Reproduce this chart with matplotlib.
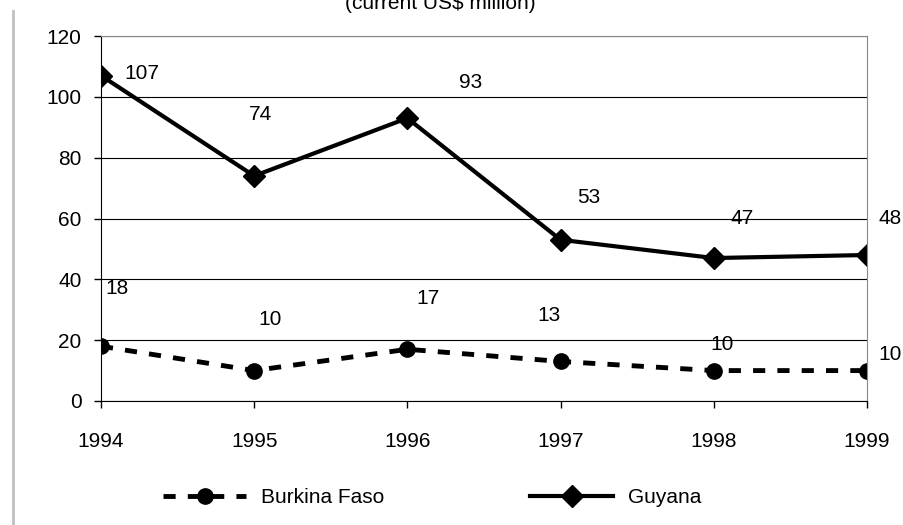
import matplotlib.pyplot as plt
from matplotlib.lines import Line2D

plt.rcParams['font.family'] = ['Liberation Sans', 'DejaVu Sans']

# Data
years = [1994, 1995, 1996, 1997, 1998, 1999]
burkina = [18, 10, 17, 13, 10, 10]
guyana = [107, 74, 93, 53, 47, 48]

# label offsets in pixels (x, y) as placed in the original
guyana_off = [(41, 2), (6, 61), (63, 36), (28, 42), (28, 40), (23, 37)]
burkina_off = [(16, 58), (16, 51), (21, 51), (-12, 46), (8, 26), (23, 16)]

fs = 15

fig = plt.figure(figsize=(9.04, 5.25), dpi=100)
ax = fig.add_axes([0.1117, 0.2362, 0.8473, 0.6952])

ax.plot(years, burkina, color='black', linestyle=(0, (2.5, 2.5)), linewidth=3.5,
        marker='o', markersize=11, label='Burkina Faso')
ax.plot(years, guyana, color='black', linestyle='-', linewidth=3,
        marker='D', markersize=11, label='Guyana')

for x, v, (dx, dy) in zip(years, guyana, guyana_off):
    ax.annotate(str(v), (x, v), xytext=(dx * 0.72, dy * 0.72), textcoords='offset points',
                ha='center', va='center', fontsize=fs, annotation_clip=False)
for x, v, (dx, dy) in zip(years, burkina, burkina_off):
    ax.annotate(str(v), (x, v), xytext=(dx * 0.72, dy * 0.72), textcoords='offset points',
                ha='center', va='center', fontsize=fs, annotation_clip=False)

ax.set_xlim(1994, 1999)
ax.set_ylim(0, 120)
ax.set_yticks(range(0, 121, 20))
ax.set_xticks(years)
ax.tick_params(direction='out', length=5, width=1, labelsize=fs)
ax.tick_params(axis='y', pad=9)
ax.tick_params(axis='x', pad=17)
ax.grid(axis='y', color='black', linewidth=0.8)
ax.set_axisbelow(True)

ax.spines['top'].set_color('#888888')
ax.spines['right'].set_color('#888888')
ax.spines['left'].set_color('black')
ax.spines['bottom'].set_color('black')

fig.text(0.487, 0.994, '(current US$ million)', ha='center', va='center', fontsize=fs)
fig.add_artist(Line2D([0.0144, 0.0144], [0, 0.98], color='#c0c0c0', linewidth=2))

fig.legend(loc='center', bbox_to_anchor=(0.478, 0.052), ncol=2, frameon=False,
           fontsize=fs, handlelength=4, columnspacing=7, handletextpad=0.7)

fig.savefig('out.png', dpi=100)
